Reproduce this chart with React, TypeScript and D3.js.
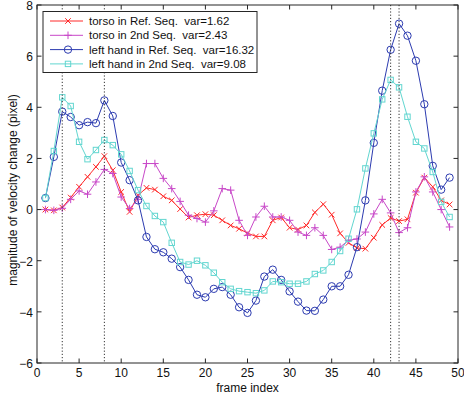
import React from 'react';
import * as d3 from 'd3';

const frames: number[] = d3.range(1, 50);

const torsoRef = [
  0.0, -0.03, 0.08, 0.47, 0.89, 1.28, 1.67, 2.09, 1.54, 0.69,
  -0.09, 0.56, 0.85, 0.78, 0.52, 0.36, 0.02, -0.31, -0.22, -0.18,
  -0.22, -0.42, -0.62, -0.75, -0.92, -1.05, -1.05, -0.42, -0.31, -0.71,
  -0.78, -0.62, -0.11, 0.21, -0.2, -0.93, -1.3, -1.5, -1.53, -1.1,
  -0.6, -0.33, -0.45, -0.38, 0.66, 1.25, 0.89, 0.36, 0.2,
];

const torso2nd = [
  0.0, -0.03, 0.05, 0.4, 0.73, 0.6, 1.08, 1.57, 1.41, 0.49,
  0.04, 0.4, 1.8, 1.8, 1.22, 0.82, 0.32, -0.22, -0.35, -0.49,
  -0.05, 0.82, 0.76, -0.42, -1.01, -0.29, 0.13, -0.29, -0.29, -0.42,
  -0.88, -1.01, -0.71, -1.01, -1.56, -1.47, -1.2, -1.15, -0.88, -0.17,
  0.4, -0.13, -0.9, -0.71, 0.69, 1.28, 0.69, 0.0, -0.68,
];

const leftRef = [
  0.45, 2.06, 3.83, 3.62, 3.3, 3.42, 3.38, 4.27, 3.66, 1.84,
  1.15, 0.36, -1.07, -1.55, -1.67, -1.92, -2.25, -2.75, -3.33, -3.43,
  -3.1, -3.03, -3.33, -3.82, -4.04, -3.56, -2.62, -2.35, -2.75, -3.2,
  -3.6, -3.95, -3.96, -3.52, -3.0, -3.0, -2.55, -1.47, 0.36, 2.61,
  4.65, 6.25, 7.27, 6.8, 5.82, 4.12, 1.71, 0.78, 1.25,
];

const left2nd = [
  0.45, 2.29, 4.39, 4.05, 2.65, 1.97, 2.33, 2.72, 2.52, 2.16,
  1.51, 0.76, 0.14, -0.25, -0.49, -1.3, -2.05, -2.15, -2.0, -2.18,
  -2.47, -2.84, -3.1, -3.19, -3.23, -3.27, -3.16, -2.81, -2.84, -2.9,
  -2.9, -2.81, -2.52, -2.38, -2.05, -1.62, -1.14, 0.01, 1.61, 2.98,
  4.31, 5.07, 4.78, 3.63, 2.65, 2.39, 1.47, 0.3, -0.29,
];

const xTicks = [0, 5, 10, 15, 20, 25, 30, 35, 40, 45, 50];
const yTicks = [-6, -4, -2, 0, 2, 4, 6, 8];
const eventFrames = [3, 8, 42, 43];

const seriesLabels = [
  'torso in Ref. Seq.  var=1.62',
  'torso in 2nd Seq.  var=2.43',
  'left hand in Ref. Seq.  var=16.32',
  'left hand in 2nd Seq.  var=9.08',
];
const seriesValues = [torsoRef, torso2nd, leftRef, left2nd];
const seriesColors = ['#ff2a2a', '#c848c8', '#2c3bb0', '#62d6d0'];
const seriesMarkers = ['x', 'plus', 'circle', 'square'];

const FONT = '"Liberation Sans", Arial, Helvetica, sans-serif';

function Marker({ type, cx, cy, color }: { type: string; cx: number; cy: number; color: string }) {
  if (type === 'circle') {
    return <circle cx={cx} cy={cy} r={3.7} fill="none" stroke={color} strokeWidth={1} />;
  }
  if (type === 'square') {
    const s = 2.7;
    return <rect x={cx - s} y={cy - s} width={2 * s} height={2 * s} fill="none" stroke={color} strokeWidth={1} />;
  }
  if (type === 'x') {
    const s = 2.8;
    return (
      <path d={`M${cx - s},${cy - s}L${cx + s},${cy + s}M${cx - s},${cy + s}L${cx + s},${cy - s}`} stroke={color} strokeWidth={1} fill="none" />
    );
  }
  const s = 3.8;
  return <path d={`M${cx - s},${cy}L${cx + s},${cy}M${cx},${cy - s}L${cx},${cy + s}`} stroke={color} strokeWidth={1} fill="none" />;
}

export default function App() {
  const W = 464;
  const H = 395;
  const L = 37, R = 458, T = 5, B = 363;
  const x = d3.scaleLinear().domain([0, 50]).range([L, R]);
  const y = d3.scaleLinear().domain([-6, 8]).range([B, T]);
  const line = d3
    .line<number>()
    .x((_, i) => x(frames[i]))
    .y((d) => y(d));
  const tick = 4.5;
  const axisColor = '#262626';

  const legX = 43, legY = 11.5, legW = 214, legRowH = 14.3;
  const legH = 61;

  return (
    <svg width={W} height={H} style={{ position: 'absolute', left: 0, top: 0, background: '#fff' }} fontFamily={FONT}>
      <rect x={0} y={0} width={W} height={H} fill="#fff" />
      {seriesValues.map((vals, si) => (
        <g key={si}>
          <path d={line(vals) || ''} fill="none" stroke={seriesColors[si]} strokeWidth={1} />
          {vals.map((v, i) => (
            <Marker key={i} type={seriesMarkers[si]} cx={x(frames[i])} cy={y(v)} color={seriesColors[si]} />
          ))}
        </g>
      ))}
      {eventFrames.map((f) => (
        <line key={f} x1={x(f)} x2={x(f)} y1={T} y2={B} stroke="#333" strokeWidth={1} strokeDasharray="1.2,2" />
      ))}
      <rect x={L} y={T} width={R - L} height={B - T} fill="none" stroke={axisColor} strokeWidth={1} />
      {xTicks.map((t) => (
        <g key={'x' + t}>
          <line x1={x(t)} x2={x(t)} y1={B} y2={B - tick} stroke={axisColor} />
          <line x1={x(t)} x2={x(t)} y1={T} y2={T + tick} stroke={axisColor} />
          <text x={x(t)} y={B + 14} textAnchor="middle" fontSize={12} fill="#111">{t}</text>
        </g>
      ))}
      {yTicks.map((t) => (
        <g key={'y' + t}>
          <line x1={L} x2={L + tick} y1={y(t)} y2={y(t)} stroke={axisColor} />
          <line x1={R} x2={R - tick} y1={y(t)} y2={y(t)} stroke={axisColor} />
          <text x={L - 4} y={y(t) + 4.8} textAnchor="end" fontSize={12} fill="#111">{t < 0 ? '\u2212' + Math.abs(t) : t}</text>
        </g>
      ))}
      <text x={(L + R) / 2} y={392} textAnchor="middle" fontSize={12} fill="#111">frame index</text>
      <text transform={`translate(17,190) rotate(-90)`} textAnchor="middle" fontSize={12} fill="#111">
        magnitude of velocity change (pixel)
      </text>
      <rect x={legX} y={legY} width={legW} height={legH} fill="#fff" stroke={axisColor} strokeWidth={1} />
      {seriesLabels.map((lab, i) => {
        const cy = legY + 9.5 + i * legRowH;
        return (
          <g key={lab}>
            <line x1={legX + 7} x2={legX + 40} y1={cy} y2={cy} stroke={seriesColors[i]} strokeWidth={1} />
            <Marker type={seriesMarkers[i]} cx={legX + 25} cy={cy} color={seriesColors[i]} />
            <text x={legX + 46} y={cy + 4.1} fontSize={11.5} fill="#111" style={{ whiteSpace: 'pre' }}>{lab}</text>
          </g>
        );
      })}
    </svg>
  );
}
